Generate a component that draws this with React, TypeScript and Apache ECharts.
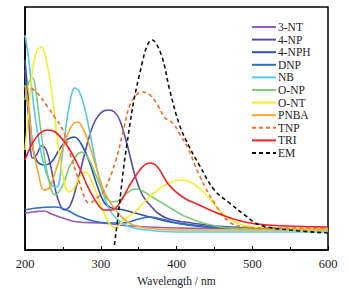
import React, { useEffect, useRef } from "react";
import * as echarts from "echarts";

const seriesNames = ["3-NT", "4-NP", "4-NPH", "DNP", "NB", "O-NP", "O-NT", "PNBA", "TNP", "TRI", "EM"];
const colors = ["#9b59b6", "#5b4aa8", "#3152a3", "#2a70c6", "#55c8e8", "#7ccb7a", "#f6ee2c", "#f8a62e", "#f26b2a", "#ef2323", "#111111"];
const dashed = [false, false, false, false, false, false, false, false, true, false, true];

const xTicks = [200, 300, 400, 500, 600];

const d3NT = [[200, 37], [210, 38], [225, 39], [235, 36], [250, 32], [270, 28], [300, 27], [340, 24], [400, 22], [600, 21]];
const d4NP = [[200, 180], [205, 130], [210, 92], [215, 95], [222, 104], [228, 100], [235, 80], [243, 52], [252, 40], [260, 45], [270, 70], [280, 100], [290, 125], [300, 137], [310, 140], [318, 138], [325, 130], [335, 105], [345, 75], [355, 55], [365, 45], [375, 37], [390, 31], [420, 27], [470, 23], [600, 21]];
const d4NPH = [[200, 190], [205, 145], [210, 105], [215, 90], [225, 85], [235, 88], [245, 100], [255, 110], [265, 113], [275, 105], [285, 88], [295, 65], [305, 47], [315, 42], [330, 40], [350, 36], [370, 32], [400, 27], [450, 23], [600, 21]];
const dDNP = [[200, 40], [215, 42], [240, 43], [255, 40], [270, 34], [290, 29], [310, 27], [330, 27], [350, 31], [365, 33], [380, 31], [400, 27], [440, 23], [600, 21]];
const dNB = [[200, 215], [205, 190], [210, 155], [215, 125], [225, 85], [235, 65], [242, 63], [250, 100], [258, 142], [266, 162], [272, 158], [280, 138], [290, 100], [300, 65], [310, 43], [320, 32], [335, 24], [360, 20], [400, 18], [600, 18]];
const dONP = [[200, 150], [205, 168], [210, 172], [215, 155], [220, 125], [230, 75], [240, 55], [250, 65], [260, 85], [275, 98], [285, 90], [295, 72], [305, 55], [315, 48], [325, 50], [335, 57], [345, 61], [355, 59], [370, 52], [390, 43], [410, 34], [440, 26], [470, 22], [600, 20]];
const dONT = [[200, 100], [205, 140], [210, 180], [215, 198], [222, 203], [228, 190], [235, 160], [242, 115], [250, 75], [258, 58], [265, 62], [272, 73], [280, 78], [290, 65], [300, 45], [310, 28], [320, 22], [330, 30], [345, 38], [360, 50], [375, 60], [390, 67], [405, 70], [415, 69], [430, 62], [445, 50], [460, 37], [480, 27], [500, 23], [600, 21]];
const dPNBA = [[200, 165], [205, 140], [210, 105], [218, 75], [225, 60], [232, 62], [240, 78], [250, 102], [260, 122], [268, 128], [275, 124], [285, 105], [295, 80], [305, 58], [315, 45], [325, 35], [340, 26], [360, 22], [400, 20], [600, 20]];
const dTNP = [[200, 160], [205, 162], [215, 158], [230, 143], [240, 132], [250, 120], [260, 95], [270, 72], [280, 50], [285, 47], [295, 52], [305, 60], [320, 90], [330, 120], [340, 147], [355, 158], [365, 155], [375, 145], [385, 132], [395, 127], [405, 115], [415, 102], [430, 75], [450, 47], [470, 28], [490, 23], [520, 22], [600, 22]];
const dTRI = [[200, 90], [210, 107], [220, 117], [230, 120], [240, 118], [255, 105], [270, 85], [285, 60], [295, 47], [305, 40], [315, 40], [325, 47], [340, 67], [355, 83], [365, 87], [375, 83], [390, 65], [410, 52], [430, 45], [460, 35], [490, 28], [520, 25], [600, 23]];
const dEM = [[318, 5], [323, 35], [334, 103], [351, 175], [368, 210], [380, 195], [391, 160], [404, 125], [417, 103], [430, 85], [450, 60], [470, 47], [490, 35], [510, 25], [550, 20], [600, 17]];

const allData = [d3NT, d4NP, d4NPH, dDNP, dNB, dONP, dONT, dPNBA, dTNP, dTRI, dEM];

export default function App() {
  const ref = useRef<HTMLDivElement>(null);
  useEffect(() => {
    document.body.style.margin = "0";
    const chart = echarts.init(ref.current!, null, { renderer: "svg" });
    const font = "Liberation Serif";
    chart.setOption({
      animation: false,
      backgroundColor: "#ffffff",
      grid: { left: 25, right: 21, top: 7, bottom: 42, show: true, borderColor: "#000", borderWidth: 1.5, backgroundColor: "transparent" },
      legend: {
        orient: "vertical",
        left: 246,
        top: 16,
        itemWidth: 24,
        itemHeight: 8,
        itemGap: 0.6,
        data: seriesNames,
        itemStyle: { opacity: 0 },
        textStyle: { fontFamily: font, fontSize: 11.5, color: "#222", padding: [0, 0, 0, -3], lineHeight: 12 },
      },
      xAxis: {
        type: "value",
        min: 200,
        max: 600,
        interval: 100,
        name: "Wavelength / nm",
        nameLocation: "middle",
        nameGap: 25,
        nameTextStyle: { fontFamily: font, fontSize: 11.5, color: "#222" },
        axisLine: { show: true, lineStyle: { color: "#000", width: 1.5 } },
        axisTick: { show: true, inside: true, length: 4, lineStyle: { color: "#000" } },
        minorTick: { show: true, splitNumber: 2, length: 3, lineStyle: { color: "#000" } },
        axisLabel: { fontFamily: font, fontSize: 12.5, color: "#222", margin: 7, formatter: (v: number) => (xTicks.includes(v) ? String(v) : "") },
        splitLine: { show: false },
      },
      yAxis: {
        type: "value",
        min: 0,
        max: 243,
        axisLine: { show: true, lineStyle: { color: "#000", width: 1.5 } },
        axisTick: { show: false },
        axisLabel: { show: false },
        splitLine: { show: false },
      },
      series: seriesNames.map((n, i) => ({
        name: n,
        type: "line",
        data: allData[i],
        smooth: 0.4,
        symbol: "none",
        color: colors[i],
        lineStyle: { color: colors[i], width: 1.6, type: dashed[i] ? [4, 3] : "solid" },
        z: i === 10 ? 5 : 2,
      })),
    });
    return () => chart.dispose();
  }, []);
  return <div ref={ref} style={{ width: 349, height: 292 }} />;
}
